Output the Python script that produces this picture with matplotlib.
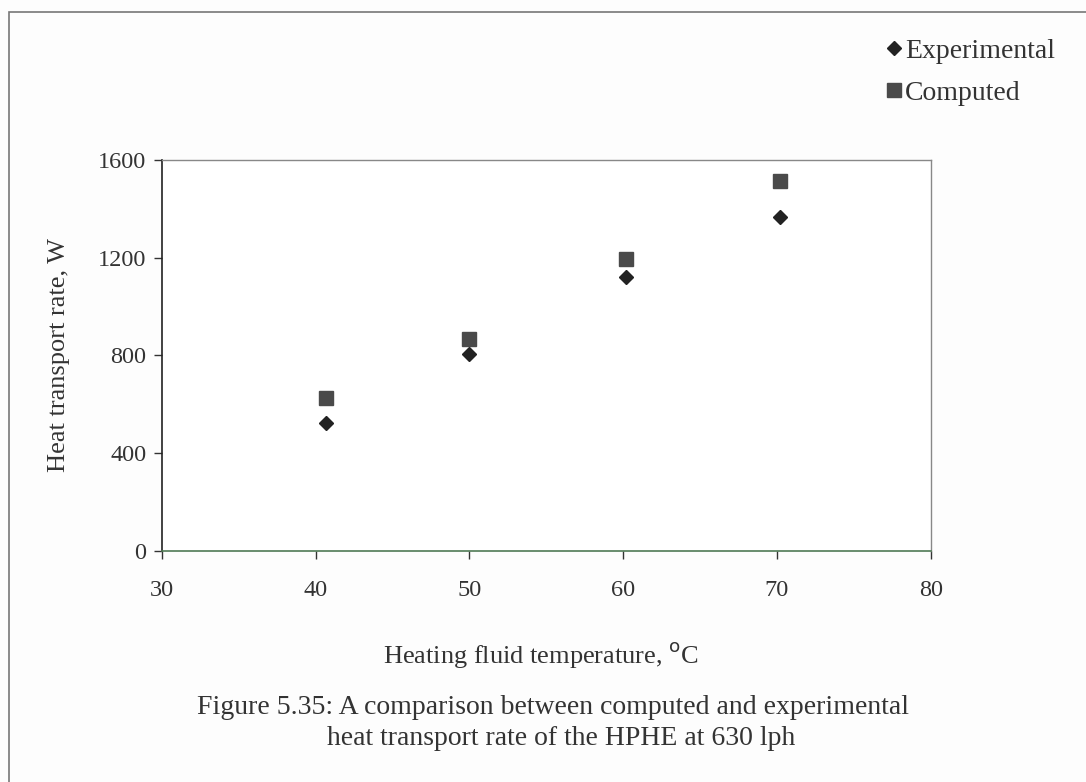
import matplotlib.pyplot as plt
from matplotlib.patches import Rectangle

# heating fluid temperature (C) and heat transport rate (W)
temp = [40.7, 50.0, 60.2, 70.2]
q_experimental = [524, 806, 1121, 1366]
q_computed = [626, 867, 1195, 1514]

x_ticks = [30, 40, 50, 60, 70, 80]
y_ticks = [0, 400, 800, 1200, 1600]

plt.rcParams['font.family'] = ['Liberation Serif', 'DejaVu Serif']
ink = '#333333'

fig = plt.figure(figsize=(10.86, 7.82), dpi=100, facecolor='#fdfdfd')
ax = fig.add_axes([0.149, 0.2954, 0.708, 0.5])
ax.set_facecolor('white')

ax.plot(temp, q_experimental, linestyle='none', marker='D', markersize=7.5,
        color='#222222', label='Experimental')
ax.plot(temp, q_computed, linestyle='none', marker='s', markersize=10,
        color='#4a4a4a', label='Computed')

ax.set_xlim(30, 80)
ax.set_ylim(0, 1600)
ax.set_xticks(x_ticks)
ax.set_yticks(y_ticks)
ax.tick_params(direction='out', length=6, width=1, colors=ink, labelsize=17.5)
ax.tick_params(axis='x', pad=15)
ax.tick_params(axis='y', pad=5)

ax.spines['left'].set_color('#222222')
ax.spines['left'].set_linewidth(1.2)
for side in ['top', 'right']:
    ax.spines[side].set_color('#888888')
    ax.spines[side].set_linewidth(1.0)
ax.spines['bottom'].set_color('#4f7a55')
ax.spines['bottom'].set_linewidth(1.2)

ax.set_ylabel('Heat transport rate, W', fontsize=19, color=ink, labelpad=20)
fig.text(0.498, 0.163, 'Heating fluid temperature, $^{\\rm o}$C', fontsize=19,
         color=ink, ha='center', va='center')

fig.text(0.509, 0.095, 'Figure 5.35: A comparison between computed and experimental',
         fontsize=20, color=ink, ha='center', va='center')
fig.text(0.517, 0.055, 'heat transport rate of the HPHE at 630 lph',
         fontsize=20, color=ink, ha='center', va='center')

leg = fig.legend(loc='upper right', bbox_to_anchor=(0.982, 0.965), frameon=False,
                 fontsize=20, handletextpad=0.1, handlelength=0.6,
                 labelspacing=0.6, borderaxespad=0, markerscale=0.95)
for t in leg.get_texts():
    t.set_color(ink)

# outer frame around the figure
fig.patches.append(Rectangle((0.008, -0.02), 1.1, 1.005, transform=fig.transFigure,
                             fill=False, edgecolor='#777777', linewidth=1.2))

fig.savefig('out.png', dpi=100, facecolor=fig.get_facecolor())
